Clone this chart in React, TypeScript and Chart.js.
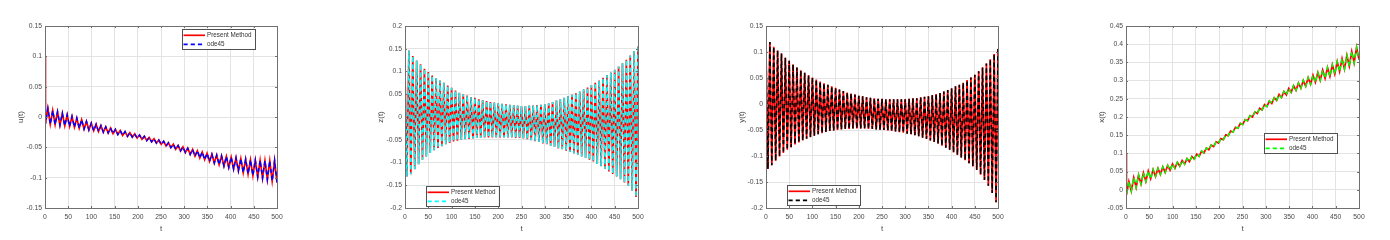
import React, { useEffect, useRef } from "react";
import { Chart, registerables } from "chart.js";

Chart.register(...registerables);

// ---------- shared axis data ----------
const T_TICKS = [0, 50, 100, 150, 200, 250, 300, 350, 400, 450, 500];
const T_LABELS = ["0", "50", "100", "150", "200", "250", "300", "350", "400", "450", "500"];

// ---------- u(t) ----------
const U_TICKS = [-0.15, -0.1, -0.05, 0, 0.05, 0.1, 0.15];
const U_LABELS = ["-0.15", "-0.1", "-0.05", "0", "0.05", "0.1", "0.15"];
const U_START = 0.1;
const U_TROUGHS = [
  -0.011, -0.012, -0.0125, -0.0135, -0.0145, -0.0156, -0.0168, -0.0183, -0.0198, -0.0213,
  -0.0226, -0.0239, -0.0251, -0.0263, -0.0275, -0.0289, -0.0304, -0.0319, -0.0333, -0.0348,
  -0.0368, -0.0389, -0.0409, -0.043, -0.045, -0.0477, -0.0505, -0.0532, -0.0559, -0.0587,
  -0.0616, -0.0646, -0.0675, -0.0704, -0.0732, -0.0759, -0.0786, -0.0808, -0.083, -0.0857,
  -0.0887, -0.0916, -0.094, -0.0965, -0.0987, -0.1007, -0.103, -0.1055, -0.108,
];
const U_PEAKS = [
  0.014, 0.0108, 0.0085, 0.006, 0.0035, 0.0008, -0.0019, -0.0045, -0.0073, -0.01,
  -0.012, -0.0141, -0.0162, -0.0183, -0.0203, -0.0223, -0.0241, -0.0259, -0.0279, -0.0298,
  -0.0319, -0.0339, -0.036, -0.038, -0.0401, -0.0425, -0.0449, -0.0471, -0.0493, -0.0515,
  -0.0535, -0.0556, -0.0577, -0.0598, -0.0614, -0.0628, -0.0641, -0.0651, -0.0661, -0.0673,
  -0.0686, -0.0696, -0.0705, -0.0713, -0.0715, -0.0719, -0.0722, -0.0721,
];

// ---------- z(t) ----------
const Z_TICKS = [-0.2, -0.15, -0.1, -0.05, 0, 0.05, 0.1, 0.15, 0.2];
const Z_LABELS = ["-0.2", "-0.15", "-0.1", "-0.05", "0", "0.05", "0.1", "0.15", "0.2"];
const Z_START = 0.1;
const Z_TROUGHS = [
  -0.131, -0.126, -0.115, -0.104, -0.094, -0.087, -0.079, -0.073, -0.068, -0.064,
  -0.06, -0.057, -0.054, -0.052, -0.05, -0.049, -0.048, -0.047, -0.046, -0.046,
  -0.045, -0.045, -0.045, -0.045, -0.045, -0.045, -0.045, -0.045, -0.046, -0.046,
  -0.047, -0.049, -0.051, -0.053, -0.055, -0.058, -0.06, -0.063, -0.066, -0.069,
  -0.071, -0.074, -0.077, -0.08, -0.083, -0.087, -0.09, -0.094, -0.098, -0.103,
  -0.108, -0.114, -0.12, -0.125, -0.131, -0.137, -0.144, -0.151, -0.162, -0.176,
];
const Z_PEAKS = [
  0.146, 0.134, 0.124, 0.116, 0.106, 0.099, 0.091, 0.085, 0.08, 0.075,
  0.069, 0.064, 0.058, 0.053, 0.05, 0.047, 0.044, 0.042, 0.039, 0.037,
  0.035, 0.033, 0.032, 0.03, 0.029, 0.028, 0.027, 0.026, 0.025, 0.024,
  0.024, 0.025, 0.025, 0.026, 0.027, 0.028, 0.03, 0.033, 0.036, 0.039,
  0.042, 0.046, 0.049, 0.052, 0.056, 0.061, 0.065, 0.07, 0.075, 0.08,
  0.086, 0.092, 0.098, 0.104, 0.111, 0.118, 0.126, 0.135, 0.145, 0.155,
];

// ---------- y(t) ----------
const Y_TICKS = [-0.2, -0.15, -0.1, -0.05, 0, 0.05, 0.1, 0.15];
const Y_LABELS = ["-0.2", "-0.15", "-0.1", "-0.05", "0", "0.05", "0.1", "0.15"];
const Y_START = 0.105;
const Y_TROUGHS = [
  -0.125, -0.118, -0.109, -0.101, -0.094, -0.088, -0.083, -0.078, -0.074, -0.07,
  -0.067, -0.064, -0.061, -0.058, -0.056, -0.054, -0.052, -0.051, -0.05, -0.049,
  -0.048, -0.048, -0.047, -0.047, -0.047, -0.047, -0.048, -0.048, -0.049, -0.05,
  -0.05, -0.051, -0.052, -0.053, -0.054, -0.055, -0.057, -0.058, -0.06, -0.062,
  -0.065, -0.067, -0.07, -0.073, -0.076, -0.08, -0.084, -0.088, -0.093, -0.098,
  -0.103, -0.108, -0.114, -0.12, -0.127, -0.136, -0.146, -0.157, -0.171, -0.189,
];
const Y_PEAKS = [
  0.119, 0.11, 0.103, 0.097, 0.089, 0.083, 0.076, 0.07, 0.065, 0.06,
  0.055, 0.051, 0.047, 0.043, 0.04, 0.037, 0.034, 0.031, 0.028, 0.025,
  0.022, 0.02, 0.018, 0.016, 0.015, 0.013, 0.012, 0.011, 0.01, 0.01,
  0.009, 0.009, 0.009, 0.009, 0.009, 0.009, 0.01, 0.011, 0.011, 0.013,
  0.014, 0.015, 0.017, 0.019, 0.021, 0.024, 0.027, 0.03, 0.034, 0.037,
  0.041, 0.046, 0.051, 0.056, 0.063, 0.07, 0.078, 0.086, 0.096, 0.106,
];

// ---------- x(t) ----------
const X_TICKS = [-0.05, 0, 0.05, 0.1, 0.15, 0.2, 0.25, 0.3, 0.35, 0.4, 0.45];
const X_LABELS = ["-0.05", "0", "0.05", "0.1", "0.15", "0.2", "0.25", "0.3", "0.35", "0.4", "0.45"];
const X_START = 0.1;
const X_TROUGHS = [
  -0.014, -0.0035, 0.0065, 0.016, 0.023, 0.0304, 0.0367, 0.0423, 0.0477, 0.0541,
  0.0592, 0.0651, 0.0705, 0.0775, 0.0844, 0.0921, 0.1013, 0.11, 0.1187, 0.1285,
  0.1376, 0.1485, 0.1587, 0.1691, 0.1795, 0.1897, 0.1999, 0.2098, 0.2196, 0.229,
  0.2373, 0.2457, 0.2534, 0.2607, 0.2677, 0.2733, 0.2791, 0.2845, 0.2899, 0.2953,
  0.3008, 0.3061, 0.3116, 0.318, 0.325, 0.3318, 0.3397, 0.3488, 0.358,
];
const X_PEAKS = [
  0.023, 0.0335, 0.0408, 0.0465, 0.0517, 0.0555, 0.0588, 0.0628, 0.0669, 0.0709,
  0.0756, 0.0802, 0.0855, 0.0915, 0.0982, 0.1065, 0.1146, 0.123, 0.1318, 0.1406,
  0.1509, 0.1611, 0.1719, 0.1823, 0.1928, 0.2034, 0.214, 0.2241, 0.2343, 0.2438,
  0.2529, 0.2618, 0.2702, 0.2784, 0.2862, 0.2934, 0.3006, 0.3078, 0.3148, 0.3219,
  0.3289, 0.3361, 0.3435, 0.3519, 0.3605, 0.3696, 0.3796, 0.3912,
];

// sampling of the extremes along t (slow panels: 48 cycles, fast panels: 60 cycles)
const SLOW_T0 = 1;
const SLOW_HALF = 499 / 96;
const FAST_T0 = 500 / 120;
const FAST_HALF = 500 / 120;

const SERIES_NAMES = ["Present Method", "ode45"];

// ---------- styling ----------
const FONT = "'Liberation Sans', Arial, Helvetica, sans-serif";
const TICK_COLOR = "#4a4a4a";
const AXIS_COLOR = "#707070";
const GRID_COLOR = "#e3e3e3";
const PLOT_TOP = 26;
const PLOT_BOTTOM = 208;
const Y_AXIS_W = 45;
const RIGHT_PAD = 15;
const CANVAS_H = 240;
const SOLID_W = 1.7;
const DASH_W = 1.5;
const DASH = [4.2, 3];

function buildSeries(start: number, first: number[], second: number[], t0: number, half: number) {
  const pts: { x: number; y: number }[] = [{ x: 0, y: start }];
  const n = first.length + second.length;
  for (let k = 0; k < n; k++) {
    const v = k % 2 === 0 ? first[k / 2] : second[(k - 1) / 2];
    pts.push({ x: t0 + k * half, y: v });
  }
  return pts;
}

type LegendPos = { anchor: "topRight" | "bottomLeft"; dx: number; dy: number };

interface PanelCfg {
  id: string;
  left: number;
  right: number;
  yLabel: string;
  yTicks: number[];
  yLabels: string[];
  start: number;
  troughs: number[];
  peaks: number[];
  t0: number;
  half: number;
  odeColor: string;
  legend: LegendPos;
}

const PANELS: PanelCfg[] = [
  { id: "u", left: 45, right: 277, yLabel: "u(t)", yTicks: U_TICKS, yLabels: U_LABELS, start: U_START, troughs: U_TROUGHS, peaks: U_PEAKS, t0: SLOW_T0, half: SLOW_HALF, odeColor: "#0000ff", legend: { anchor: "topRight", dx: 22.5, dy: 2.5 } },
  { id: "z", left: 405, right: 638, yLabel: "z(t)", yTicks: Z_TICKS, yLabels: Z_LABELS, start: Z_START, troughs: Z_TROUGHS, peaks: Z_PEAKS, t0: FAST_T0, half: FAST_HALF, odeColor: "#00ffff", legend: { anchor: "bottomLeft", dx: 20.5, dy: 2.5 } },
  { id: "y", left: 766, right: 998, yLabel: "y(t)", yTicks: Y_TICKS, yLabels: Y_LABELS, start: Y_START, troughs: Y_TROUGHS, peaks: Y_PEAKS, t0: FAST_T0, half: FAST_HALF, odeColor: "#000000", legend: { anchor: "bottomLeft", dx: 20.5, dy: 3 } },
  { id: "x", left: 1126, right: 1359, yLabel: "x(t)", yTicks: X_TICKS, yLabels: X_LABELS, start: X_START, troughs: X_TROUGHS, peaks: X_PEAKS, t0: SLOW_T0, half: SLOW_HALF, odeColor: "#00ff00", legend: { anchor: "topRight", dx: 23, dy: 106.5 } },
];

const LEG_W = 72.5;
const LEG_H = 20;

function makeFramePlugin(cfg: PanelCfg) {
  return {
    id: "frame_" + cfg.id,
    afterDraw(chart: any) {
      const { ctx, chartArea } = chart;
      const l = Math.round(chartArea.left);
      const r = Math.round(chartArea.right);
      const t = Math.round(chartArea.top);
      const b = Math.round(chartArea.bottom);
      const xs = chart.scales.x;
      const ys = chart.scales.y;
      ctx.save();
      ctx.strokeStyle = AXIS_COLOR;
      ctx.lineWidth = 1;
      ctx.strokeRect(l + 0.5, t + 0.5, r - l, b - t);
      ctx.beginPath();
      for (const v of T_TICKS) {
        const px = Math.round(xs.getPixelForValue(v)) + 0.5;
        ctx.moveTo(px, b);
        ctx.lineTo(px, b - 2);
        ctx.moveTo(px, t);
        ctx.lineTo(px, t + 2);
      }
      for (const v of cfg.yTicks) {
        const py = Math.round(ys.getPixelForValue(v)) + 0.5;
        ctx.moveTo(l, py);
        ctx.lineTo(l + 2, py);
        ctx.moveTo(r, py);
        ctx.lineTo(r - 2, py);
      }
      ctx.stroke();

      // legend
      let bx: number, by: number;
      if (cfg.legend.anchor === "topRight") {
        bx = chartArea.right - cfg.legend.dx - LEG_W;
        by = chartArea.top + cfg.legend.dy;
      } else {
        bx = chartArea.left + cfg.legend.dx;
        by = chartArea.bottom - cfg.legend.dy - LEG_H;
      }
      bx = Math.round(bx);
      by = Math.round(by);
      ctx.fillStyle = "#ffffff";
      ctx.fillRect(bx, by, LEG_W, LEG_H);
      ctx.strokeStyle = "#505050";
      ctx.lineWidth = 1;
      ctx.strokeRect(bx + 0.5, by + 0.5, Math.round(LEG_W), LEG_H);
      const rows = [by + 6.3, by + 15.3];
      ctx.lineWidth = SOLID_W;
      ctx.strokeStyle = "#ff0000";
      ctx.setLineDash([]);
      ctx.beginPath();
      ctx.moveTo(bx + 1.5, rows[0]);
      ctx.lineTo(bx + 23, rows[0]);
      ctx.stroke();
      ctx.lineWidth = DASH_W + 0.2;
      ctx.strokeStyle = cfg.odeColor;
      ctx.setLineDash(DASH);
      ctx.beginPath();
      ctx.moveTo(bx + 1.5, rows[1]);
      ctx.lineTo(bx + 23, rows[1]);
      ctx.stroke();
      ctx.setLineDash([]);
      ctx.fillStyle = "#333333";
      ctx.font = `6.3px ${FONT}`;
      ctx.textBaseline = "middle";
      ctx.textAlign = "left";
      ctx.fillText(SERIES_NAMES[0], bx + 25, rows[0]);
      ctx.fillText(SERIES_NAMES[1], bx + 25, rows[1]);
      ctx.restore();
    },
  };
}

function Panel({ cfg }: { cfg: PanelCfg }) {
  const ref = useRef<HTMLCanvasElement>(null);
  const width = cfg.right - cfg.left + Y_AXIS_W + RIGHT_PAD;

  useEffect(() => {
    const present = buildSeries(cfg.start, cfg.troughs, cfg.peaks, cfg.t0, cfg.half);
    const ode = buildSeries(cfg.start, cfg.troughs, cfg.peaks, cfg.t0, cfg.half);
    const chart = new Chart(ref.current as HTMLCanvasElement, {
      type: "line",
      data: {
        datasets: [
          {
            label: SERIES_NAMES[1],
            data: ode,
            borderColor: cfg.odeColor,
            borderWidth: DASH_W,
            borderDash: DASH,
            pointRadius: 0,
            tension: 0,
            fill: false,
            order: 0,
          },
          {
            label: SERIES_NAMES[0],
            data: present,
            borderColor: "#ff0000",
            borderWidth: SOLID_W,
            pointRadius: 0,
            tension: 0,
            fill: false,
            order: 1,
          },
        ],
      },
      options: {
        responsive: false,
        animation: false,
        devicePixelRatio: 1,
        layout: { padding: { top: PLOT_TOP, left: 0, right: RIGHT_PAD, bottom: 0 } },
        plugins: { legend: { display: false }, tooltip: { enabled: false } },
        events: [],
        scales: {
          x: {
            type: "linear",
            min: 0,
            max: 500,
            afterBuildTicks: (s: any) => {
              s.ticks = T_TICKS.map((v) => ({ value: v }));
            },
            afterFit: (s: any) => {
              s.height = CANVAS_H - PLOT_BOTTOM;
            },
            ticks: {
              callback: (_v: any, i: number) => T_LABELS[i],
              font: { family: FONT, size: 6.8 },
              color: TICK_COLOR,
              padding: 5,
              maxRotation: 0,
              autoSkip: false,
            },
            grid: { color: GRID_COLOR, drawTicks: false, lineWidth: 1 },
            border: { display: false },
            title: {
              display: true,
              text: "t",
              font: { family: FONT, size: 8 },
              color: TICK_COLOR,
              padding: { top: 0, bottom: 6 },
            },
          },
          y: {
            type: "linear",
            position: "left",
            min: cfg.yTicks[0],
            max: cfg.yTicks[cfg.yTicks.length - 1],
            afterBuildTicks: (s: any) => {
              s.ticks = cfg.yTicks.map((v) => ({ value: v }));
            },
            afterFit: (s: any) => {
              s.width = Y_AXIS_W;
            },
            ticks: {
              callback: (_v: any, i: number) => cfg.yLabels[i],
              font: { family: FONT, size: 6.8 },
              color: TICK_COLOR,
              padding: 3,
              autoSkip: false,
            },
            grid: { color: GRID_COLOR, drawTicks: false, lineWidth: 1 },
            border: { display: false },
            title: {
              display: true,
              text: cfg.yLabel,
              font: { family: FONT, size: 8 },
              color: TICK_COLOR,
              padding: { top: 15.5, bottom: 0 },
            },
          },
        },
      },
      plugins: [makeFramePlugin(cfg)],
    } as any);
    return () => chart.destroy();
  }, []);

  return (
    <canvas
      ref={ref}
      width={width}
      height={CANVAS_H}
      style={{ position: "absolute", left: cfg.left - Y_AXIS_W, top: 0, width, height: CANVAS_H }}
    />
  );
}

export default function App() {
  return (
    <div
      style={{
        position: "fixed",
        left: 0,
        top: 0,
        width: 1390,
        height: 240,
        background: "#ffffff",
        overflow: "hidden",
      }}
    >
      {PANELS.map((p) => (
        <Panel key={p.id} cfg={p} />
      ))}
    </div>
  );
}
